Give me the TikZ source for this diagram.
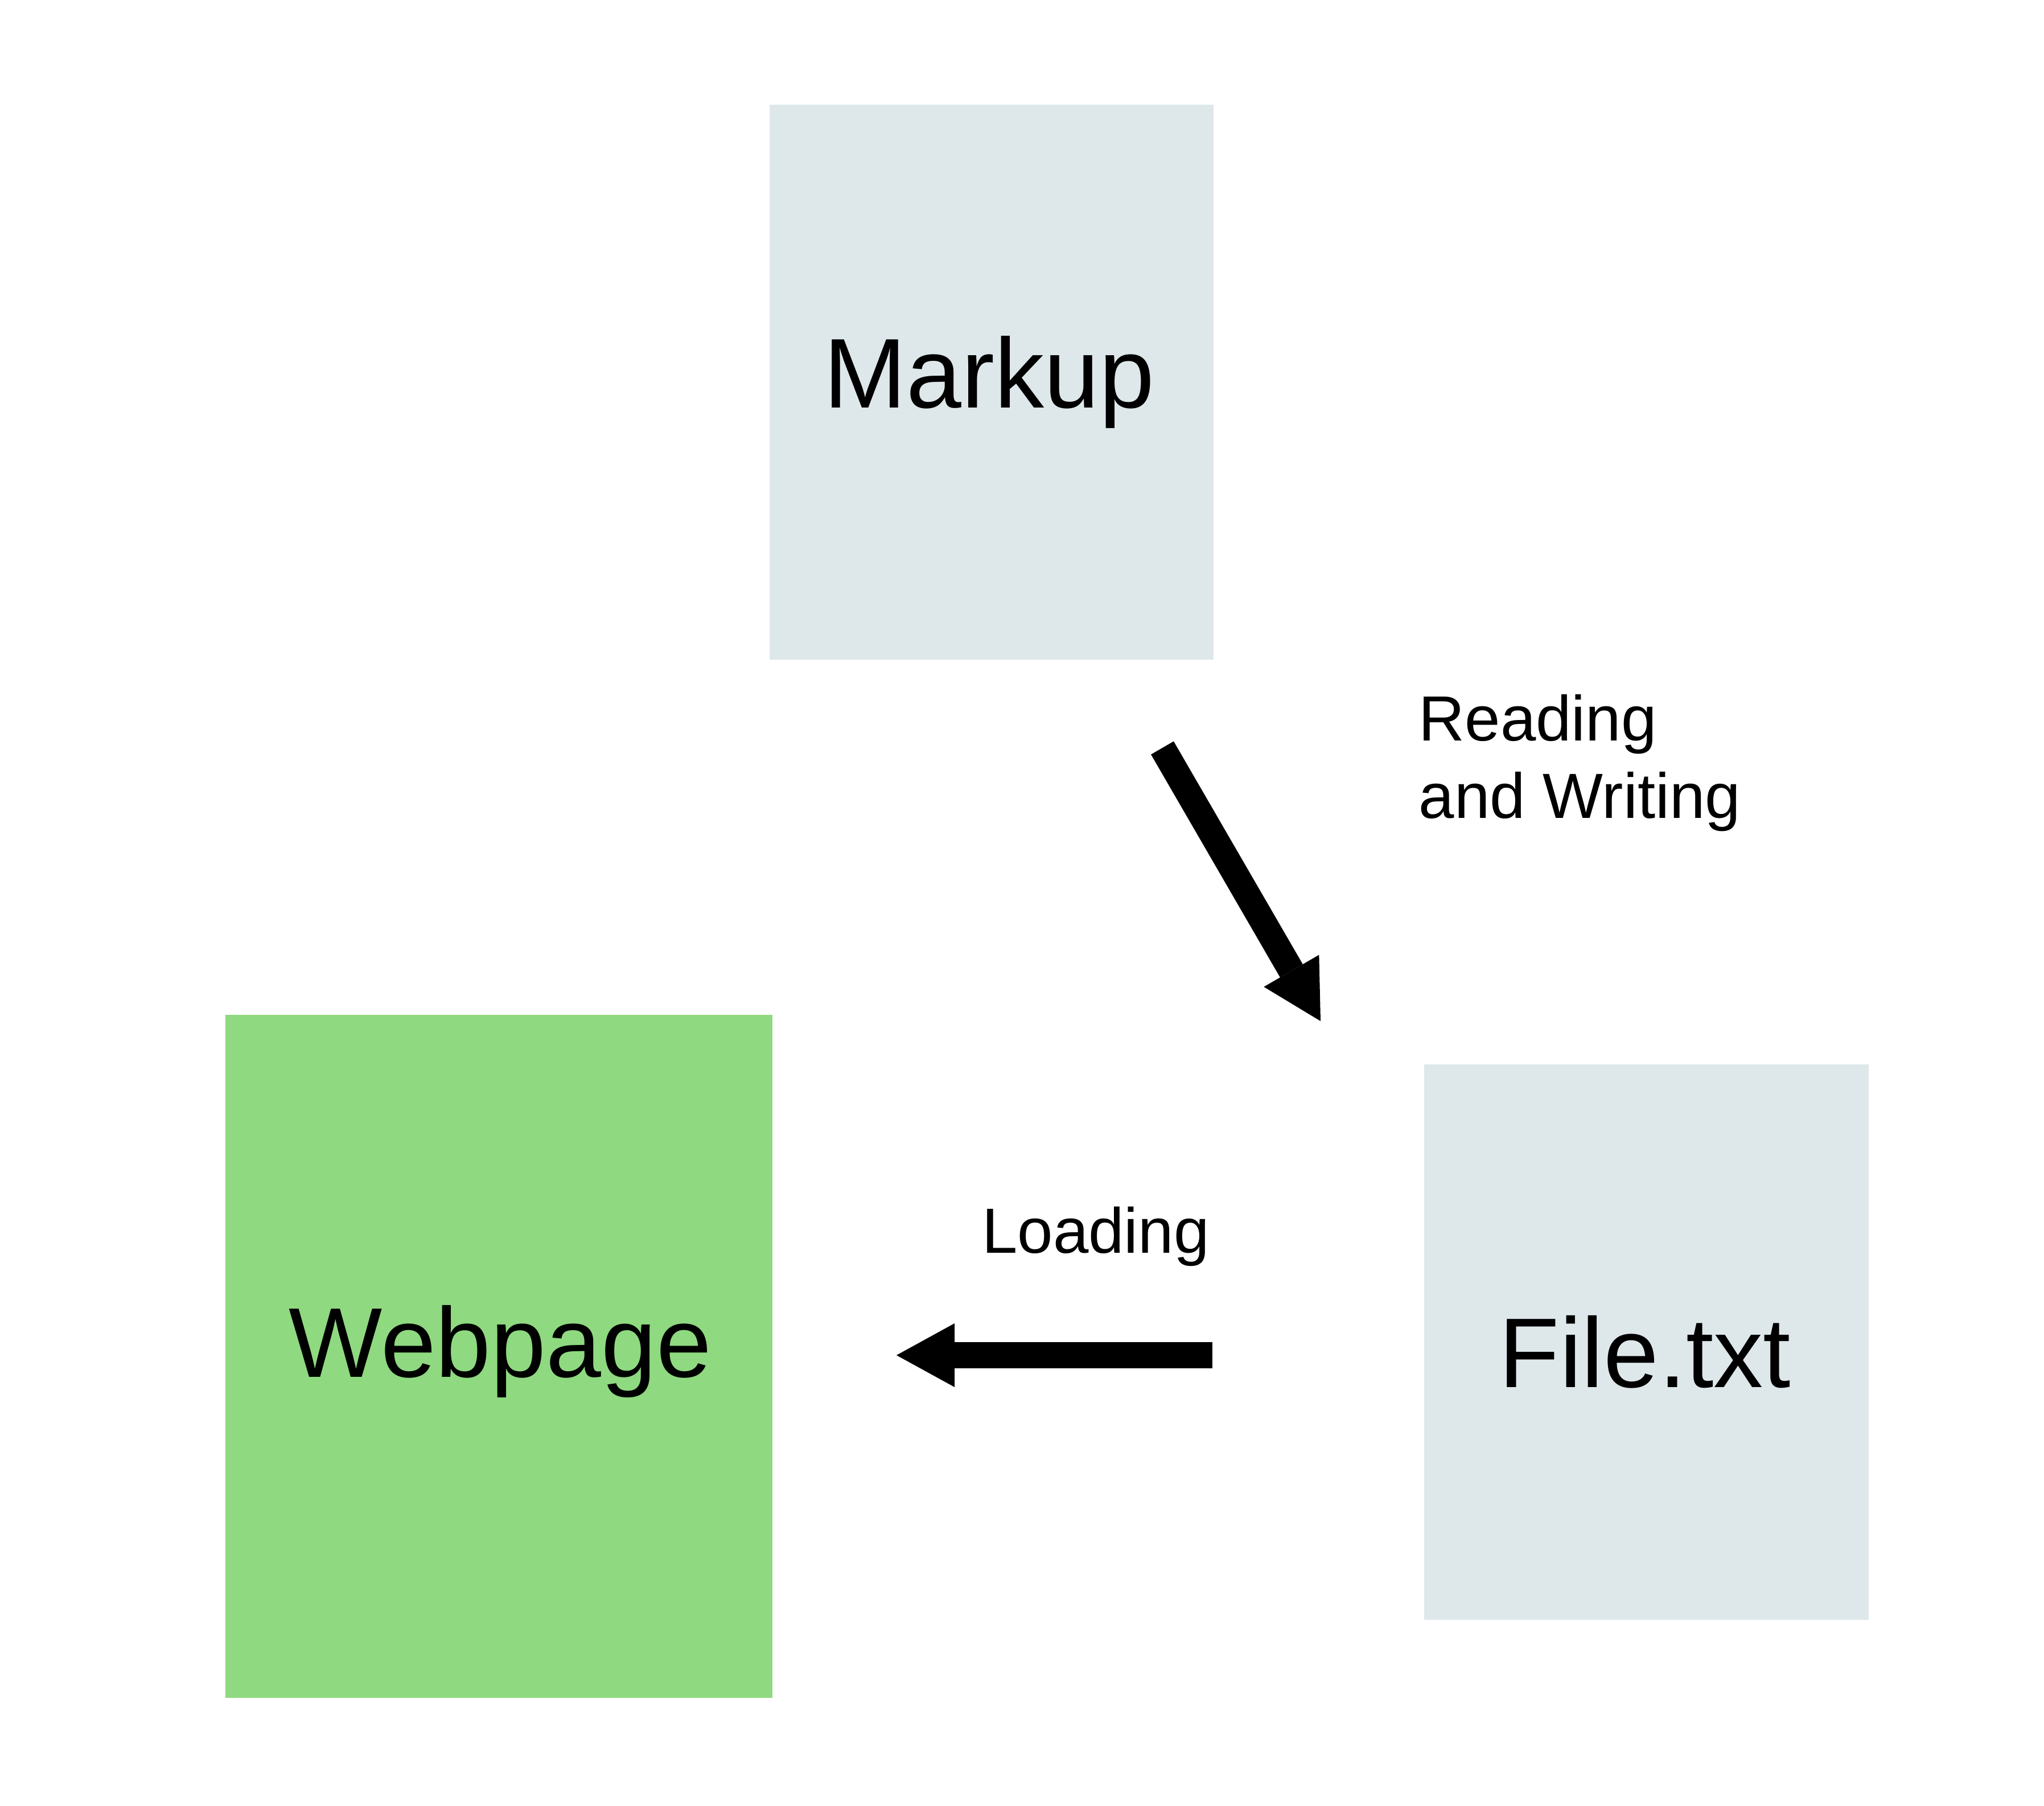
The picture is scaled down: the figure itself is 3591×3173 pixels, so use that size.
\documentclass[tikz,border=0pt]{standalone}
\usepackage{fontspec}
\setmainfont{Liberation Sans}
\usetikzlibrary{arrows.meta}
\definecolor{boxgrey}{HTML}{DEE8EB}
\definecolor{boxgreen}{HTML}{8FD980}
\begin{document}
\begin{tikzpicture}[x=0.01cm,y=-0.01cm,
  box/.style={draw=none, inner sep=0pt, outer sep=0pt, anchor=north west},
  big/.style={font=\fontsize{49.5pt}{58pt}\selectfont, inner sep=0pt, anchor=base},
  small/.style={font=\fontsize{31.9pt}{38.7pt}\selectfont, inner sep=0pt},
  fat/.style={line width=0.46cm, -{Triangle[length=1.02cm,width=1.12cm,line width=0pt]}}]
\useasboundingbox[fill=white] (0,0) rectangle (3591,3173);
% boxes
\node[box, fill=boxgrey, minimum width=7.8cm, minimum height=9.74cm] (markup) at (1352,184) {};
\node[box, fill=boxgreen, minimum width=9.6cm, minimum height=11.99cm] (webpage) at (396,1783) {};
\node[box, fill=boxgrey, minimum width=7.8cm, minimum height=9.75cm] (file) at (2502,1870) {};
% box texts
\node[big] (markuplabel) at (1738,716) {Markup};
\node[big] (webpagelabel) at (879,2419) {Webpage};
\node[big] (filelabel) at (2890,2437) {File.txt};
% connector labels
\node[small, anchor=north west, align=left] (rwlabel) at (2492,1219) {Reading\\and Writing};
\node[small, anchor=base] (loadlabel) at (1925,2201) {Loading};
% arrows
\coordinate (a1s) at (2042,1314);
\coordinate (a1e) at (2320,1794);
\draw[fat] (a1s) -- (a1e);
\coordinate (a2s) at (2130,2381);
\coordinate (a2e) at (1575,2381);
\draw[fat] (a2s) -- (a2e);
\end{tikzpicture}
\end{document}
